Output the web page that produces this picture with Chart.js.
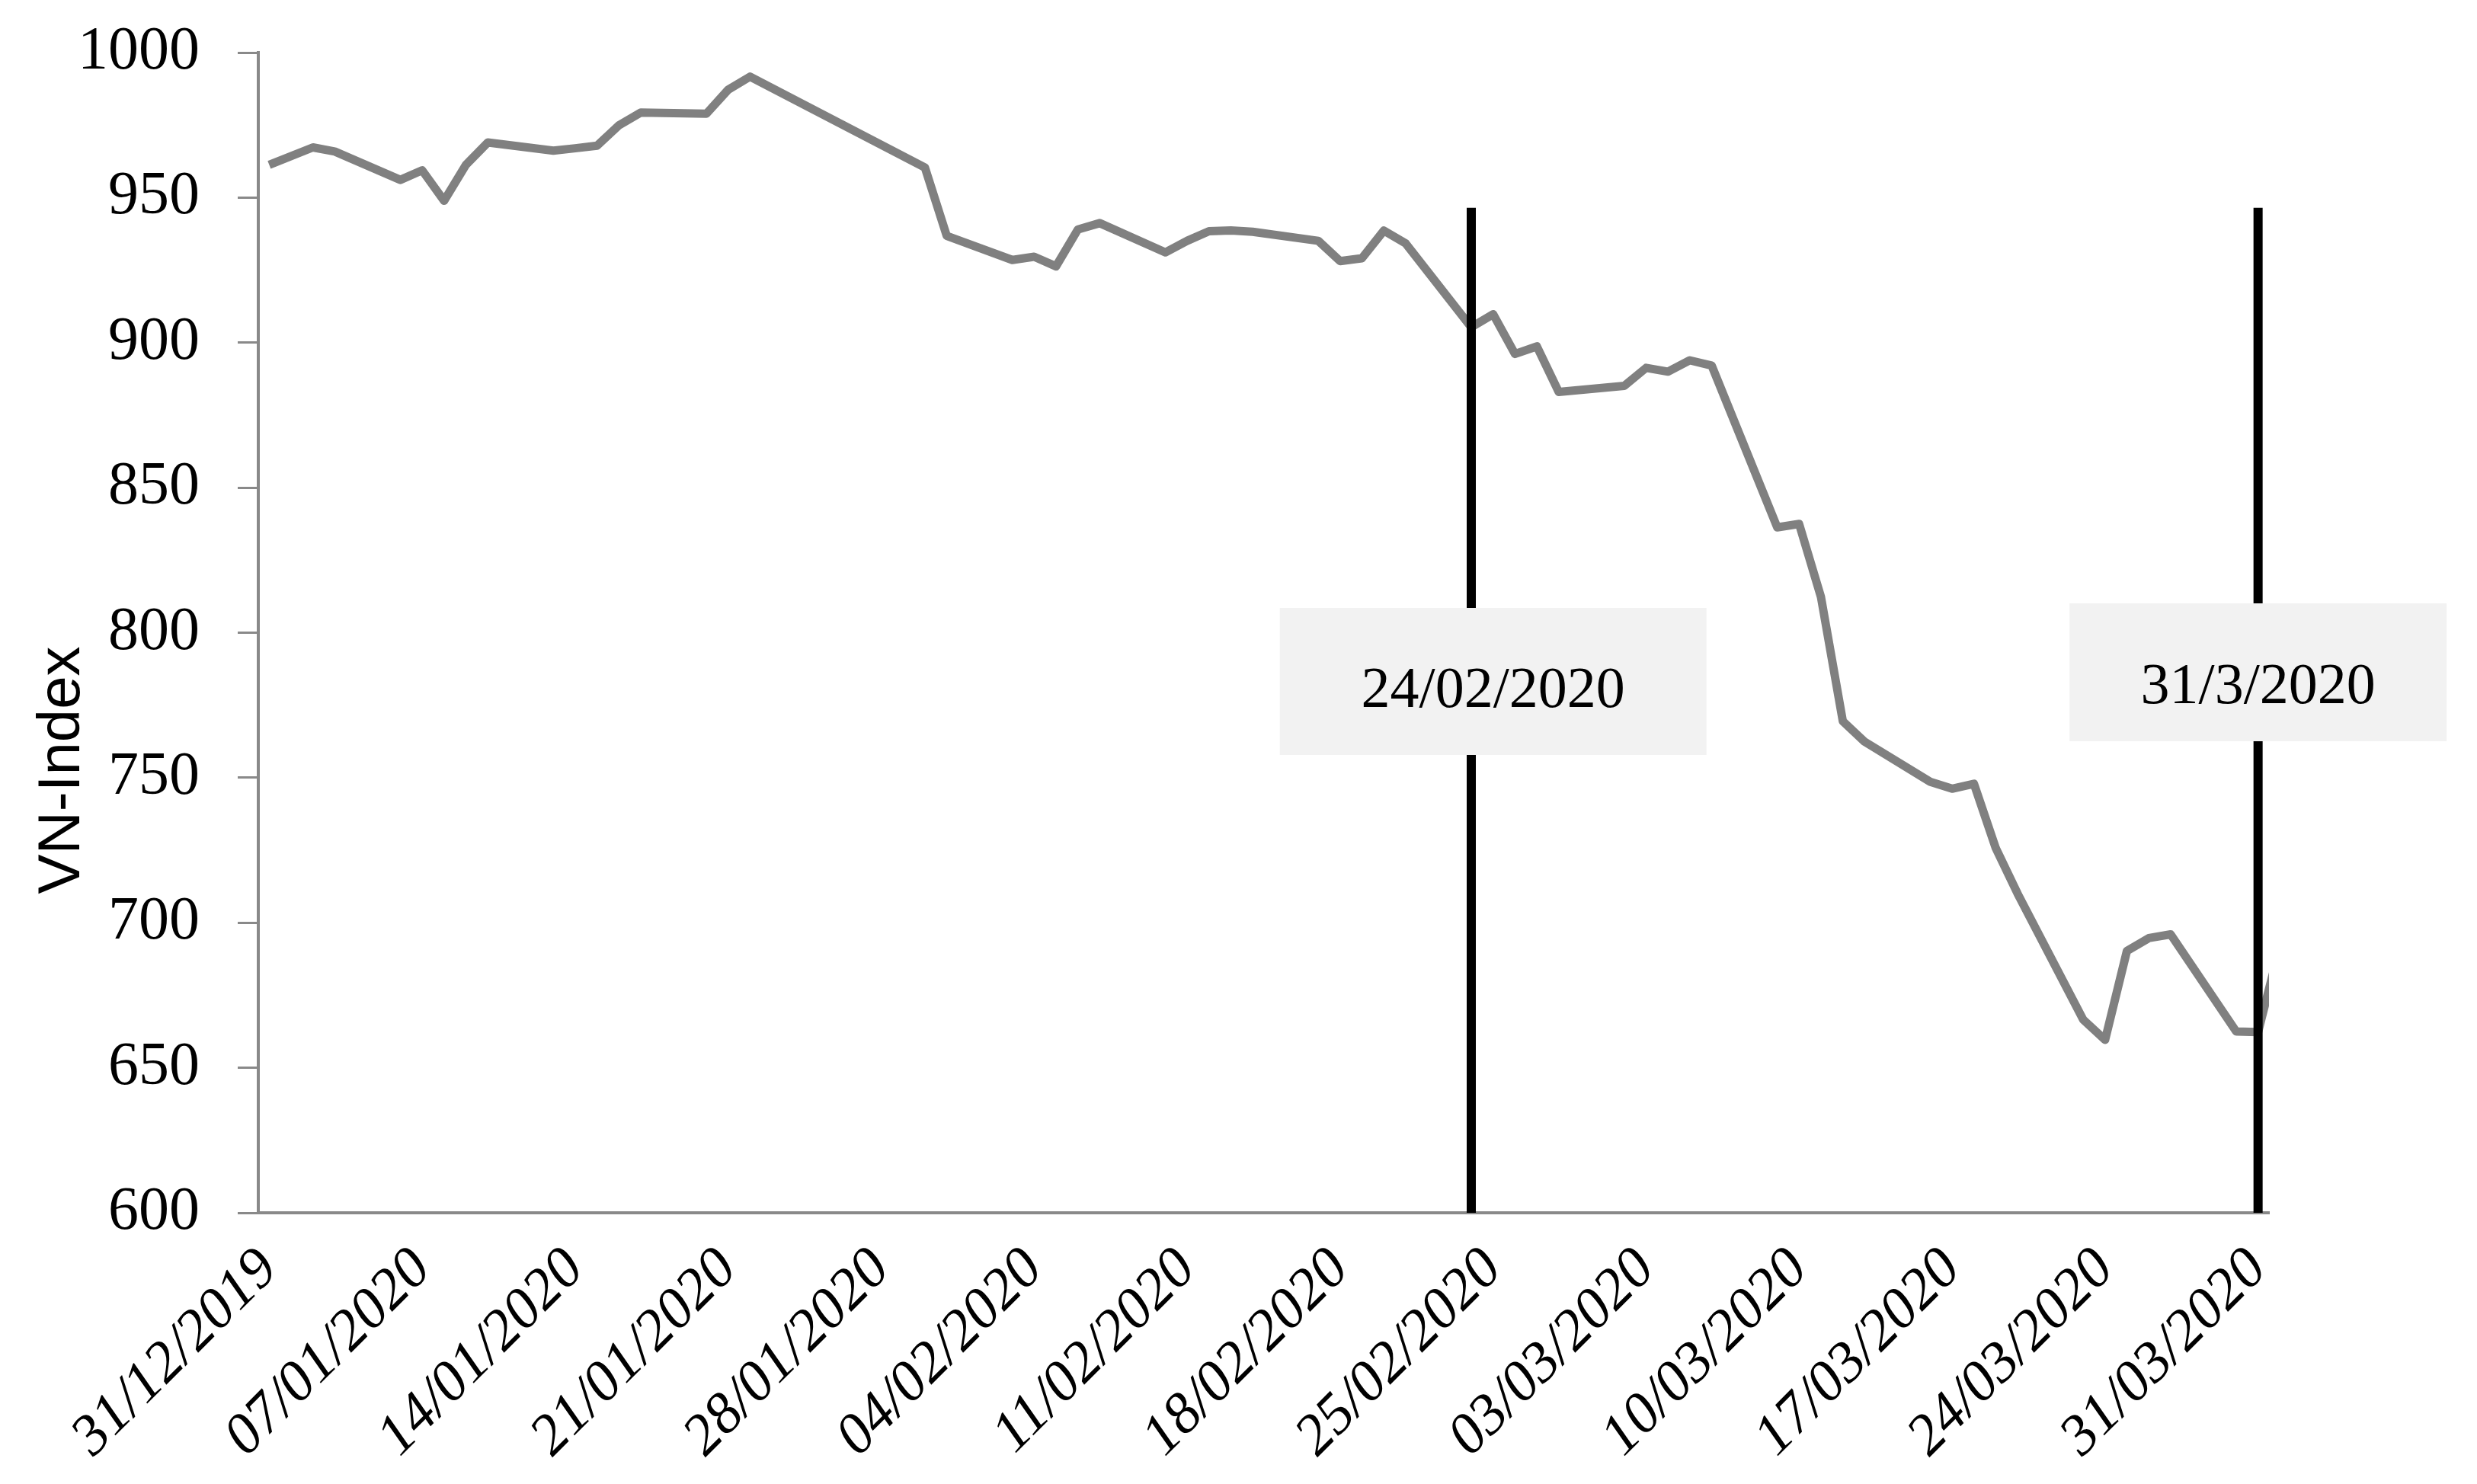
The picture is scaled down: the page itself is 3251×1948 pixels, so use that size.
<!DOCTYPE html>
<html>
<head>
<meta charset="utf-8">
<script src="https://cdn.jsdelivr.net/npm/chart.js@4.4.1/dist/chart.umd.min.js"></script>
<style>
  html, body { margin: 0; padding: 0; background: #fff; }
  canvas { display: block; }
</style>
</head>
<body>
<canvas id="vnChart" width="3251" height="1948"></canvas>
<script>
// trading days, counted in days from 31/12/2019
const tradeDays = [0, 2, 3, 6, 7, 8, 9, 10, 13, 14, 15, 16, 17, 20, 21, 22,
  30, 31, 34, 35, 36, 37, 38, 41, 42, 43, 44, 45, 48, 49, 50, 51, 52,
  55, 56, 57, 58, 59, 62, 63, 64, 65, 66, 69, 70, 71, 72, 73,
  76, 77, 78, 79, 80, 83, 84, 85, 86, 87, 90, 91, 92];
const vnIndex = [961.3, 967.3, 965.9, 956.1, 959.4, 948.9, 961.3, 969.0, 966.2, 967.0, 967.9, 974.9, 979.3, 978.9, 987.2, 991.7,
  960.4, 936.8, 928.5, 929.6, 926.3, 939.0, 941.2, 931.1, 935.1, 938.4, 938.7, 938.2, 935.1, 928.1, 929.1, 938.6, 934.2,
  905.3, 909.8, 896.1, 898.7, 883.0, 885.1, 891.3, 890.0, 893.9, 892.1, 836.3, 837.5, 812.3, 769.5, 762.4,
  748.6, 746.2, 747.9, 725.7, 710.0, 666.6, 659.6, 690.3, 694.7, 696.0, 662.5, 662.3, 692.0];

// x axis labels, one per week
const tickDays = [0, 7, 14, 21, 28, 35, 42, 49, 56, 63, 70, 77, 84, 91];
const tickLabels = ['31/12/2019', '07/01/2020', '14/01/2020', '21/01/2020', '28/01/2020',
  '04/02/2020', '11/02/2020', '18/02/2020', '25/02/2020', '03/03/2020',
  '10/03/2020', '17/03/2020', '24/03/2020', '31/03/2020'];

// marked dates
const eventDays = [55, 91];
const eventLabels = ['24/02/2020', '31/3/2020'];
const eventTop = 946.5;

const axisGrey = '#898989';

// grey boxes with the marked dates, drawn over the black lines
const eventBoxes = {
  id: 'eventBoxes',
  afterDatasetsDraw(chart) {
    const { ctx, scales: { x } } = chart;
    const boxes = [
      { day: eventDays[0] + 1, top: 798, w: 560, h: 193, base: 130, text: eventLabels[0] },
      { day: eventDays[1], top: 792, w: 495, h: 181, base: 131, text: eventLabels[1] }
    ];
    ctx.save();
    boxes.forEach(b => {
      const cx = x.getPixelForValue(b.day);
      ctx.fillStyle = '#f2f2f2';
      ctx.fillRect(cx - b.w / 2, b.top, b.w, b.h);
      ctx.fillStyle = '#000';
      ctx.font = '76px "Liberation Serif"';
      ctx.textAlign = 'center';
      ctx.textBaseline = 'alphabetic';
      ctx.fillText(b.text, cx, b.top + b.base);
    });
    ctx.restore();
  }
};

// y axis title, placed like the original
const yTitle = {
  id: 'yTitle',
  afterDraw(chart) {
    const { ctx } = chart;
    ctx.save();
    ctx.translate(104, 1011);
    ctx.rotate(-Math.PI / 2);
    ctx.fillStyle = '#000';
    ctx.font = '78px "Liberation Sans"';
    ctx.textAlign = 'center';
    ctx.textBaseline = 'alphabetic';
    ctx.fillText('VN-Index', 0, 0);
    ctx.restore();
  }
};

const eventSets = eventDays.map(d => ({
  data: [{ x: d, y: 600 }, { x: d, y: eventTop }],
  borderColor: '#000',
  borderWidth: 12,
  pointRadius: 0,
  borderCapStyle: 'butt'
}));

new Chart(document.getElementById('vnChart'), {
  type: 'line',
  data: {
    datasets: [
      ...eventSets,
      {
        label: 'VN-Index',
        data: tradeDays.map((d, i) => ({ x: d, y: vnIndex[i] })),
        borderColor: '#808080',
        borderWidth: 11,
        borderJoinStyle: 'round',
        pointRadius: 0,
        tension: 0
      }
    ]
  },
  options: {
    responsive: false,
    animation: false,
    devicePixelRatio: 1,
    layout: { padding: { top: 69, right: 273, left: 0, bottom: 0 } },
    plugins: { legend: { display: false }, tooltip: { enabled: false } },
    scales: {
      x: {
        type: 'linear',
        min: -0.5,
        max: 91.5,
        afterBuildTicks: s => { s.ticks = tickDays.map(v => ({ value: v })); },
        afterFit: s => { s.height = 356; },
        ticks: {
          autoSkip: false,
          minRotation: 45,
          maxRotation: 45,
          padding: 30,
          color: '#000',
          font: { family: 'Liberation Serif', size: 76, style: 'italic' },
          callback: (v, i) => tickLabels[i]
        },
        grid: { drawOnChartArea: false, drawTicks: false },
        border: { color: axisGrey, width: 4 }
      },
      y: {
        min: 600,
        max: 1000,
        afterFit: s => { s.width = 339; s.paddingTop = 0; s.paddingBottom = 0; },
        ticks: {
          stepSize: 50,
          padding: 50,
          color: '#000',
          font: { family: 'Liberation Serif', size: 80 },
          callback: v => String(v)
        },
        grid: { drawOnChartArea: false, tickLength: 27, color: axisGrey, lineWidth: 3 },
        border: { color: axisGrey, width: 4 }
      }
    }
  },
  plugins: [eventBoxes, yTitle]
});
</script>
</body>
</html>
